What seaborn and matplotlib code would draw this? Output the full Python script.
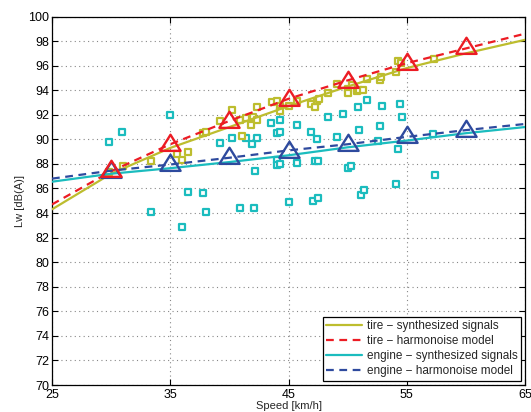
import numpy as np
import pandas as pd
import matplotlib
matplotlib.use("Agg")
import matplotlib.pyplot as plt
from matplotlib.path import Path
from matplotlib.lines import Line2D
import seaborn as sns

# ---------------- data ----------------
speed_grid = [25, 30, 35, 40, 45, 50, 55, 60, 65]
tire_synth = [84.3, 87.2, 89.3, 91.0, 92.7, 94.3, 95.8, 97.0, 98.1]
tire_model = [84.7, 87.4, 89.6, 91.5, 93.3, 94.8, 96.2, 97.4, 98.6]
engine_synth = [86.55, 87.2, 87.65, 88.15, 88.7, 89.35, 89.9, 90.5, 91.0]
engine_model = [86.8, 87.45, 87.95, 88.5, 89.1, 89.6, 90.2, 90.75, 91.25]

model_speeds = [30, 35, 40, 45, 50, 55, 60]
tire_model_pts = [87.4, 89.55, 91.45, 93.2, 94.7, 96.15, 97.4]
engine_model_pts = [87.35, 87.9, 88.45, 88.95, 89.55, 90.15, 90.7]

tire_speed = [29.8, 31.0, 33.4, 35.6, 36.0, 36.5, 37.8, 38.0, 39.2, 40.2,
              40.9, 41.1, 41.4, 41.8, 42.0, 42.3, 42.3, 43.6, 44.0, 44.3,
              44.3, 45.0, 45.7, 46.9, 47.2, 47.4, 47.6, 48.3, 49.1, 50.0,
              50.0, 50.4, 50.8, 51.0, 51.3, 51.6, 52.7, 52.8, 54.1, 54.3,
              54.5, 57.3]
tire_level = [87.3, 87.8, 88.2, 88.8, 88.3, 89.0, 90.5, 90.6, 91.5, 92.4,
              91.6, 90.3, 91.7, 91.2, 91.8, 92.6, 91.6, 93.0, 93.1, 92.7,
              92.3, 92.7, 93.1, 92.9, 92.6, 93.1, 93.3, 93.8, 94.5, 94.1,
              93.8, 94.4, 93.9, 94.0, 94.0, 94.9, 94.8, 95.1, 95.5, 96.4,
              96.2, 96.5]

engine_speed = [29.8, 30.9, 33.4, 35.0, 36.0, 36.5, 37.8, 38.0, 39.2, 40.2,
                40.9, 41.4, 41.9, 42.1, 42.2, 42.3, 43.5, 44.0, 44.0, 44.0,
                44.3, 44.3, 44.3, 45.0, 45.7, 45.7, 46.9, 47.1, 47.2, 47.4,
                47.5, 47.5, 48.3, 49.1, 49.6, 50.0, 50.3, 50.9, 51.0, 51.1,
                51.4, 51.6, 52.6, 52.7, 52.9, 54.1, 54.3, 54.4, 54.6, 57.2,
                57.4]
engine_level = [89.8, 90.6, 84.1, 92.0, 82.9, 85.7, 85.6, 84.1, 89.7, 90.1,
                84.4, 90.1, 89.6, 84.4, 87.4, 90.1, 91.3, 90.5, 88.3, 87.9,
                91.6, 90.6, 88.0, 84.9, 91.2, 88.1, 90.6, 85.0, 88.2, 90.0,
                88.2, 85.2, 91.8, 90.2, 92.1, 87.7, 87.8, 92.6, 90.8, 85.5,
                85.9, 93.2, 89.9, 91.1, 92.7, 86.4, 89.2, 92.9, 91.8, 90.4,
                87.1]

x_ticks = [25, 35, 45, 55, 65]
y_ticks = list(range(70, 101, 2))
legend_labels = ["tire \u2212 synthesized signals",
                 "tire \u2212 harmonoise model",
                 "engine \u2212 synthesized signals",
                 "engine \u2212 harmonoise model"]

# ---------------- style ----------------
OLIVE = "#BDBD2E"
RED = "#EC1C24"
CYAN = "#1BBCBE"
BLUE = "#2E4A9E"
DASH = (3.5, 2.5)

sns.set_style("ticks")
plt.rcParams["font.family"] = ["Liberation Sans", "DejaVu Sans"]

fig = plt.figure(figsize=(5.31, 4.12), dpi=100)
ax = fig.add_axes([52 / 531, 1 - 385 / 412, (525 - 52) / 531, (385 - 16.5) / 412])

# centroid-centred triangle (like MATLAB '^')
tri = Path([(0, 1.0667), (-1, -0.5333), (1, -0.5333), (0, 1.0667)],
           [Path.MOVETO, Path.LINETO, Path.LINETO, Path.CLOSEPOLY])

# scatter data (open squares)
sns.scatterplot(x=engine_speed, y=engine_level, ax=ax, marker="s", s=17,
                facecolor="white", edgecolor=CYAN, linewidth=1.6, zorder=3)
sns.scatterplot(x=tire_speed, y=tire_level, ax=ax, marker="s", s=17,
                facecolor="white", edgecolor=OLIVE, linewidth=1.6, zorder=3)

# curves
lw = 1.6
sns.lineplot(x=speed_grid, y=tire_synth, ax=ax, color=OLIVE, lw=lw, zorder=4)
sns.lineplot(x=speed_grid, y=tire_model, ax=ax, color=RED, lw=lw, zorder=4)
sns.lineplot(x=speed_grid, y=engine_synth, ax=ax, color=CYAN, lw=lw, zorder=4)
sns.lineplot(x=speed_grid, y=engine_model, ax=ax, color=BLUE, lw=lw, zorder=4)
ax.lines[1].set_dashes(DASH)
ax.lines[3].set_dashes(DASH)

# model points (triangles)
ax.plot(model_speeds, engine_model_pts, linestyle="none", marker=tri,
        markersize=15.5, markerfacecolor="none", markeredgecolor=BLUE,
        markeredgewidth=1.7, zorder=5)
ax.plot(model_speeds, tire_model_pts, linestyle="none", marker=tri,
        markersize=15.5, markerfacecolor="none", markeredgecolor=RED,
        markeredgewidth=1.7, zorder=6)

ax.set_xlim(25, 65)
ax.set_ylim(70, 100)
ax.set_xticks(x_ticks)
ax.set_yticks(y_ticks)
ax.tick_params(direction="in", length=4, width=0.8, top=True, right=True,
               labelsize=9, colors="black")
ax.tick_params(axis="x", pad=3)
ax.tick_params(axis="y", pad=2)
ax.grid(True, linestyle=(0, (1, 3)), color="#888888", linewidth=0.8)
for sp in ax.spines.values():
    sp.set_visible(True)
    sp.set_linewidth(0.9)
    sp.set_color("black")

ax.set_xlabel("Speed [km/h]", fontsize=8, labelpad=0)
ax.set_ylabel("Lw [dB(A)]", fontsize=8, labelpad=2)

handles = [Line2D([], [], color=OLIVE, lw=lw),
           Line2D([], [], color=RED, lw=lw, dashes=DASH),
           Line2D([], [], color=CYAN, lw=lw),
           Line2D([], [], color=BLUE, lw=lw, dashes=DASH)]
leg = ax.legend(handles, legend_labels, loc="lower right", fontsize=8.5,
                frameon=True, fancybox=False, framealpha=1, edgecolor="black",
                handlelength=3.0, handletextpad=0.4, labelspacing=0.25,
                borderpad=0.3, borderaxespad=0.35)
leg.get_frame().set_linewidth(0.9)

fig.savefig("out.png", dpi=100)
